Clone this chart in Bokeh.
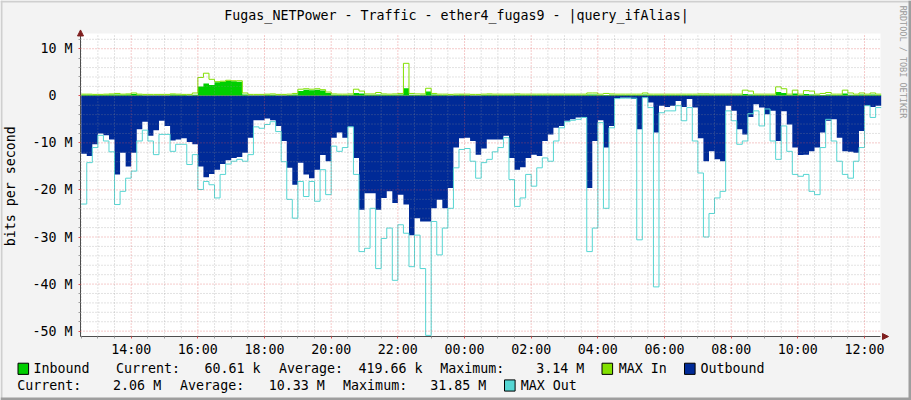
import numpy as np
from bokeh.plotting import figure
from bokeh.models import (Range1d, FixedTicker, Label, Arrow, NormalHead, LinearAxis,
                          BoxAnnotation)
from bokeh.embed import file_html
from bokeh.resources import INLINE

# ---------------- data ----------------
title_text = "Fugas_NETPower - Traffic - ether4_fugas9 - |query_ifAlias|"
y_axis_text = "bits per second"
side_text = "RRDTOOL / TOBI OETIKER"

start_hour = 12.5          # first sample 12:30
step_hours = 1.0 / 6.0     # 10-minute samples

# Mbit/s
inbound = [0.2, 0.2, 0.15, 0.15, 0.2, 0.3, 0.3, 0.2, 0.3, 0.4,
           0.2, 0.1, 0.1, 0.1, 0.1, 0.1, 0.3, 0.2, 0.15, 0.1,
           0.2, 2.0, 2.6, 2.3, 2.9, 3.0, 3.2, 3.1, 3.0, 0.3,
           0.1, 0.1, 0.1, 0.2, 0.2, 0.1,
           0.1, 0.15, 0.3, 1.0, 1.3, 1.2, 1.3, 1.1, 0.6, 0.2,
           0.15, 0.15, 0.2, 0.6, 0.5, 0.2, 0.2, 0.3, 0.2, 0.15,
           0.2, 0.3, 1.6, 0.2, 0.15, 0.2, 0.9, 0.3, 0.15, 0.15,
           0.1, 0.15, 0.2, 0.15, 0.1, 0.1,
           0.15, 0.2, 0.15, 0.15, 0.15, 0.15, 0.2, 0.15, 0.15, 0.15,
           0.15, 0.15, 0.15, 0.15, 0.15, 0.15, 0.15, 0.15, 0.15, 0.3,
           0.3, 0.15, 0.15, 0.2, 0.15, 0.15, 0.15, 0.15, 0.15, 0.3,
           0.15, 0.15, 0.15, 0.15, 0.15, 0.15,
           0.15, 0.15, 0.15, 0.2, 0.2, 0.15, 0.15, 0.15, 0.15, 0.15,
           0.15, 0.4, 0.3, 0.15, 0.15, 0.15, 0.15, 0.8, 0.6, 0.15,
           0.5, 0.15, 0.4, 0.3, 0.15, 0.15, 0.3, 0.15, 0.15, 0.5,
           0.2, 0.15, 0.3, 0.15, 0.3, 0.15]

max_in = [0.35, 0.35, 0.3, 0.3, 0.35, 0.4, 0.5, 0.35, 0.4, 0.6,
          0.35, 0.3, 0.3, 0.3, 0.3, 0.3, 0.4, 0.35, 0.3, 0.3,
          0.6, 3.9, 4.8, 3.5, 3.0, 3.1, 3.3, 3.2, 3.2, 0.6,
          0.3, 0.3, 0.3, 0.35, 0.4, 0.3,
          0.3, 0.35, 0.5, 1.4, 1.5, 1.4, 1.5, 1.3, 0.8, 0.4,
          0.35, 0.35, 0.4, 1.4, 1.0, 0.4, 0.4, 0.7, 0.4, 0.35,
          0.4, 0.5, 6.9, 0.5, 0.4, 0.4, 1.6, 0.5, 0.35, 0.35,
          0.3, 0.35, 0.35, 0.35, 0.3, 0.3,
          0.35, 0.4, 0.35, 0.35, 0.35, 0.35, 0.4, 0.35, 0.35, 0.35,
          0.35, 0.35, 0.35, 0.35, 0.35, 0.35, 0.35, 0.35, 0.35, 0.6,
          0.6, 0.35, 0.5, 0.4, 0.35, 0.35, 0.35, 0.35, 0.35, 0.6,
          0.35, 0.35, 0.35, 0.35, 0.35, 0.35,
          0.35, 0.35, 0.35, 0.4, 0.4, 0.35, 0.35, 0.35, 0.35, 0.35,
          0.35, 1.2, 1.0, 0.35, 0.35, 0.35, 0.35, 1.9, 1.5, 0.35,
          1.2, 0.35, 1.1, 1.0, 0.35, 0.5, 0.7, 0.35, 0.35, 1.2,
          0.6, 0.35, 0.6, 0.35, 0.6, 0.35]

outbound = [12.3, 12.8, 10.3, 8.0, 8.4, 9.3, 16.7, 12.1, 15.0, 12.1,
            7.1, 5.5, 8.5, 7.3, 5.3, 6.4, 9.5, 9.3, 9.0, 9.8,
            10.3, 15.0, 17.3, 16.6, 15.7, 14.5, 13.7, 13.2, 13.0, 12.1,
            8.9, 5.2, 5.2, 4.8, 5.2, 6.4,
            9.6, 15.3, 18.9, 14.2, 16.7, 17.5, 15.7, 12.6, 13.9, 8.9,
            7.8, 8.9, 6.6, 13.2, 24.2, 20.7, 20.7, 24.2, 21.7, 20.3,
            22.8, 21.0, 23.1, 29.6, 26.0, 26.7, 26.7, 23.9, 22.1, 23.9,
            19.6, 11.0, 9.0, 8.9, 9.6, 12.5,
            11.2, 9.3, 9.3, 9.3, 8.5, 13.2, 15.7, 15.2, 13.2, 12.5,
            12.8, 9.6, 8.2, 6.8, 6.4, 5.3, 5.0, 4.6, 4.5, 19.6,
            9.6, 5.2, 11.0, 6.4, 0.5, 0.4, 0.4, 0.7, 7.1, 0.4,
            1.4, 7.8, 2.1, 2.4, 2.1, 1.1,
            2.4, 0.7, 2.5, 9.0, 13.9, 11.8, 13.5, 13.9, 2.1, 3.2,
            7.1, 8.2, 4.5, 1.8, 2.5, 3.9, 3.2, 9.6, 3.3, 6.1,
            11.0, 12.6, 12.5, 11.8, 11.0, 7.8, 5.3, 5.0, 8.9, 11.8,
            11.9, 12.1, 7.5, 2.1, 2.4, 2.1]

max_out = [23.0, 14.2, 11.0, 8.4, 9.6, 11.9, 23.1, 20.3, 17.5, 16.0,
           9.6, 7.3, 9.6, 12.5, 8.2, 8.2, 11.8, 10.3, 10.3, 14.6,
           12.5, 19.9, 18.2, 18.9, 21.7, 16.7, 14.5, 13.9, 13.5, 13.9,
           12.5, 6.6, 6.9, 6.1, 5.5, 7.6,
           14.0, 22.0, 26.0, 18.2, 21.4, 18.2, 22.4, 15.7, 21.0, 10.7,
           11.8, 11.0, 6.6, 16.7, 33.1, 32.4, 23.9, 36.7, 30.3, 28.1,
           39.2, 27.4, 29.2, 36.3, 29.6, 36.7, 50.9, 26.7, 33.8, 28.1,
           23.9, 15.3, 11.4, 11.2, 13.9, 17.5,
           14.2, 13.5, 11.9, 11.0, 8.9, 17.8, 23.5, 21.7, 16.7, 19.2,
           15.3, 13.2, 13.9, 9.6, 6.8, 5.5, 5.2, 5.0, 4.6, 33.1,
           28.1, 5.7, 23.9, 6.8, 0.6, 0.5, 0.5, 0.5, 30.6, 0.4,
           2.5, 40.6, 3.6, 3.2, 3.2, 2.1,
           5.3, 2.5, 9.6, 16.4, 30.0, 25.0, 21.7, 20.3, 3.2, 5.3,
           10.3, 9.6, 3.8, 3.2, 6.4, 2.8, 9.6, 13.5, 6.4, 11.8,
           16.7, 17.1, 16.7, 20.3, 21.0, 11.0, 5.0, 9.6, 13.9, 16.7,
           17.5, 13.9, 11.0, 2.1, 4.6, 2.5]

x_tick_hours = [14, 16, 18, 20, 22, 24, 26, 28, 30, 32, 34, 36]
x_tick_labels = ["14:00", "16:00", "18:00", "20:00", "22:00", "00:00",
                 "02:00", "04:00", "06:00", "08:00", "10:00", "12:00"]
x_minor_hours = [h / 2 for h in range(25, 73) if h % 4 != 0]
y_tick_values = [10, 0, -10, -20, -30, -40, -50]
y_tick_labels = ["10 M", "0\u00a0\u00a0", "-10 M", "-20 M", "-30 M", "-40 M", "-50 M"]
y_minor_values = [v for v in range(-50, 14, 2) if v % 10 != 0]

series_names = ["Inbound", "MAX In", "Outbound", "MAX Out"]
stat_words = ["Current:", "Average:", "Maximum:"]
inbound_stats = ["60.61 k", "419.66 k", "3.14 M"]
outbound_stats = ["2.06 M", "10.33 M", "31.85 M"]

# ---------------- style / geometry ----------------
GREEN = "#00CF00"
LIME = "#82E000"
NAVY = "#002A97"
CYAN = "#55D6D3"
BACK = "#F3F3F3"
ARROWC = "#7F1F1F"
FONT = "DejaVu Sans Mono"
FS = "13.3px"

W, H = 911, 400
# plot window (data) and its pixel placement on the canvas
x0, x1 = 12.479, 36.479          # hours
y0, y1 = -51.14, 13.24           # Mbit/s
PX_L, PX_R = 80.0, 880.0
PX_ZERO, PX_PER_M = 95.3, 4.707
px_per_h = (PX_R - PX_L) / (x1 - x0)
cx0 = x0 - PX_L / px_per_h
cx1 = x0 + (W - PX_L) / px_per_h
cy1 = PX_ZERO / PX_PER_M
cy0 = -(H - PX_ZERO) / PX_PER_M

p = figure(width=W, height=H, output_backend="svg", toolbar_location=None,
           x_range=Range1d(cx0, cx1), y_range=Range1d(cy0, cy1),
           x_axis_location=None, y_axis_location=None,
           min_border=0, min_border_left=0, min_border_right=0,
           min_border_top=0, min_border_bottom=0)
p.border_fill_color = BACK
p.background_fill_color = BACK
p.outline_line_color = None
p.xgrid.visible = False
p.ygrid.visible = False

# plot window background
p.add_layout(BoxAnnotation(left=x0, right=x1, bottom=y0, top=y1, fill_color="#FFFFFF",
                           fill_alpha=1.0, line_color=None, level="underlay"))

n = len(outbound)
xs = start_hour + np.arange(n + 1) * step_hours


def ext(a):
    a = np.asarray(a, dtype=float)
    return np.append(a, a[-1])


zeros = np.zeros(n + 1)
p.varea_step(x=xs, y1=zeros, y2=ext(inbound), step_mode="after", fill_color=GREEN)
p.step(xs, ext(max_in), mode="after", line_color=LIME, line_width=1)
p.varea_step(x=xs, y1=zeros, y2=-ext(outbound), step_mode="after", fill_color=NAVY)
p.step(xs, -ext(max_out), mode="after", line_color=CYAN, line_width=1)

# grid lines (over the data, as rrdtool does)
GRAY_GRID = dict(line_color="#8F8F8F", line_alpha=0.5, line_dash="1 2", line_width=1)
RED_GRID = dict(line_color="#DE5050", line_alpha=0.6, line_dash="1 2", line_width=1)
p.segment(x0=x_minor_hours, y0=[y0] * len(x_minor_hours), x1=x_minor_hours,
          y1=[y1] * len(x_minor_hours), **GRAY_GRID)
p.segment(x0=[x0] * len(y_minor_values), y0=y_minor_values, x1=[x1] * len(y_minor_values),
          y1=y_minor_values, **GRAY_GRID)
p.segment(x0=x_tick_hours, y0=[y0] * len(x_tick_hours), x1=x_tick_hours,
          y1=[y1] * len(x_tick_hours), **RED_GRID)
p.segment(x0=[x0] * len(y_tick_values), y0=y_tick_values, x1=[x1] * len(y_tick_values),
          y1=y_tick_values, **RED_GRID)

# axes fixed at the plot-window edges
xaxis = LinearAxis(fixed_location=y0, bounds=(x0, x1),
                   ticker=FixedTicker(ticks=x_tick_hours, minor_ticks=x_minor_hours))
yaxis = LinearAxis(fixed_location=x0, bounds=(y0, y1),
                   ticker=FixedTicker(ticks=y_tick_values, minor_ticks=y_minor_values))
xaxis.major_label_overrides = dict(zip(x_tick_hours, x_tick_labels))
yaxis.major_label_overrides = dict(zip(y_tick_values, y_tick_labels))
for ax in (xaxis, yaxis):
    ax.axis_line_color = "#4D4D4D"
    ax.major_tick_line_color = "#DE5050"
    ax.major_tick_out = 2
    ax.major_tick_in = 0
    ax.minor_tick_line_color = "#9E9E9E"
    ax.minor_tick_out = 2
    ax.minor_tick_in = 0
    ax.major_label_text_font = FONT
    ax.major_label_text_font_size = FS
    ax.major_label_text_color = "#000000"
yaxis.major_label_standoff = 6
xaxis.major_label_standoff = 3
p.add_layout(xaxis, "below")
p.add_layout(yaxis, "left")

# arrows at axis ends
p.add_layout(Arrow(end=NormalHead(size=6, fill_color=ARROWC, line_color=ARROWC),
                   x_start=x0, y_start=y1 - 1.0, x_end=x0, y_end=y1 + 0.75, line_alpha=0))
p.add_layout(Arrow(end=NormalHead(size=6, fill_color=ARROWC, line_color=ARROWC),
                   x_start=x1 - 0.2, y_start=y0, x_end=x1 + 0.24, y_end=y0, line_alpha=0))

# image border shading
for l, r, b, t, c in [(0, 2, 0, H, "#CFCFCF"), (0, W, H - 2, H, "#CFCFCF"),
                      (W - 3, W, 0, H, "#9E9E9E"), (0, W, 0, 3, "#9E9E9E")]:
    p.add_layout(BoxAnnotation(left=l, right=r, bottom=b, top=t, left_units="screen",
                               right_units="screen", bottom_units="screen", top_units="screen",
                               fill_color=c, fill_alpha=1.0, line_color=None))


# ---------------- texts (screen units from canvas bottom-left) ----------------
def txt(s, X, Y, size=FS, color="#000000", align="left", angle=0.0):
    p.add_layout(Label(x=X, y=H - Y, x_units="screen", y_units="screen", text=s,
                       text_font=FONT, text_font_size=size, text_color=color,
                       text_align=align, text_baseline="middle", angle=angle))


def swatch(color, X, Y):
    p.add_layout(Label(x=X, y=H - Y, x_units="screen", y_units="screen", text="\u00a0",
                       text_font=FONT, text_font_size="1px", text_align="left",
                       text_baseline="middle", background_fill_color=color,
                       border_line_color="#000000", border_line_width=1, padding=5))


txt(title_text, 456, 15, align="center")
txt(y_axis_text, 10.3, 185.8, align="center", angle=np.pi / 2)
txt(side_text, 902.5, 61.5, size="8.5px", color="#9A9A9A", align="center", angle=-np.pi / 2)

L1, L2 = 368.3, 385.0
swatch(GREEN, 17.5, L1)
txt(series_names[0], 33.0, L1)
txt(stat_words[0], 115.5, L1)
txt(inbound_stats[0], 204.0, L1)
txt(stat_words[1], 278.5, L1)
txt(inbound_stats[1], 358.0, L1)
txt(stat_words[2], 439.7, L1)
txt(inbound_stats[2], 535.8, L1)
swatch(LIME, 601.5, L1)
txt(series_names[1], 618.2, L1)
swatch(NAVY, 684.0, L1)
txt(series_names[2], 700.0, L1)

txt(stat_words[0], 16.8, L2)
txt(outbound_stats[0], 112.6, L2)
txt(stat_words[1], 179.6, L2)
txt(outbound_stats[1], 268.2, L2)
txt(stat_words[2], 342.6, L2)
txt(outbound_stats[2], 429.8, L2)
swatch(CYAN, 504.0, L2)
txt(series_names[3], 520.2, L2)

open("out.html", "w").write(file_html(p, INLINE))
